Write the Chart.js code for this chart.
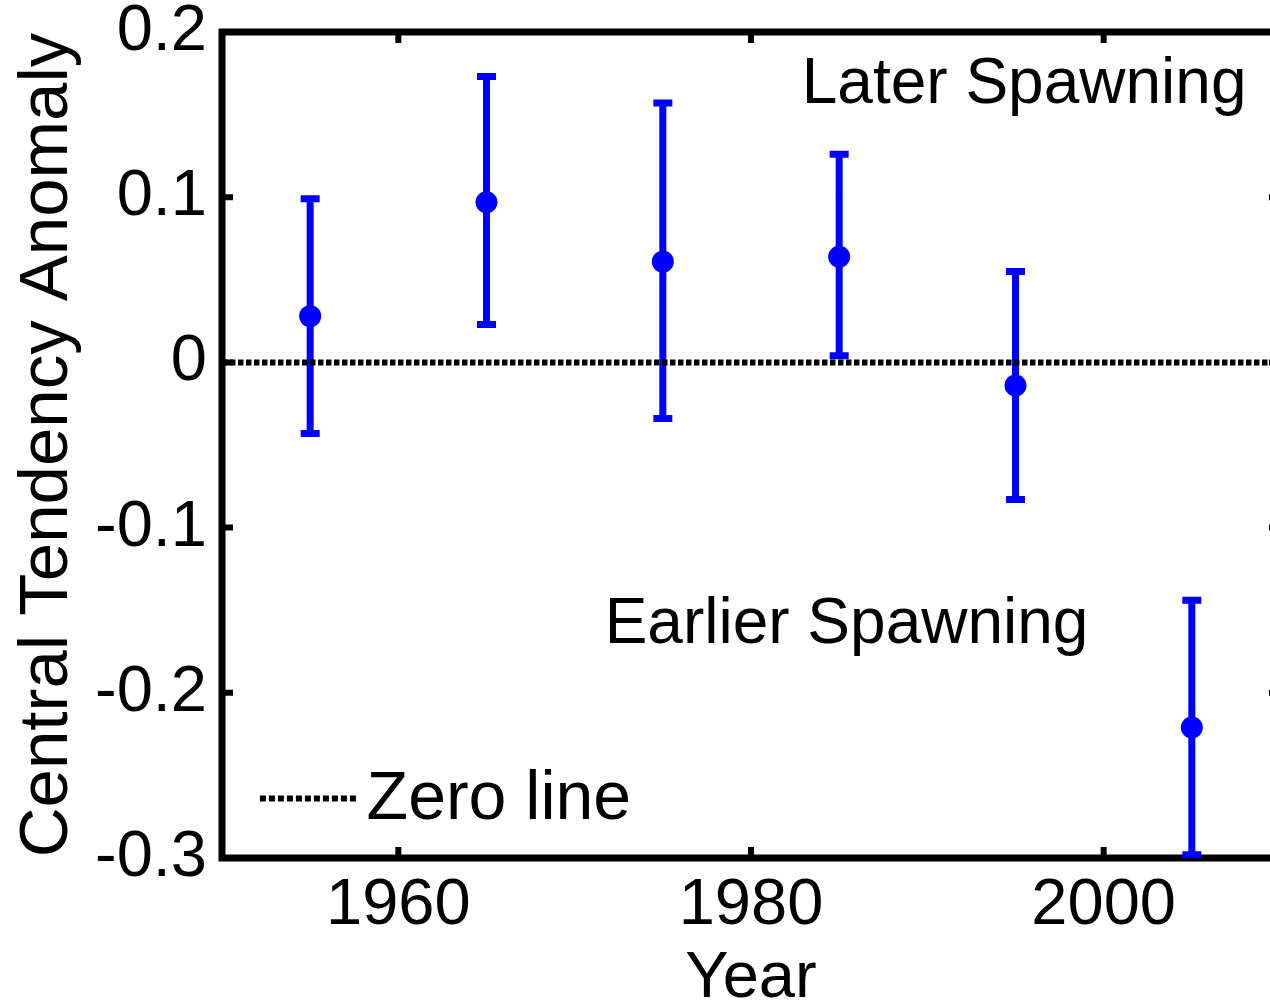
<!DOCTYPE html>
<html>
<head>
<meta charset="utf-8">
<script src="https://cdn.jsdelivr.net/npm/chart.js@4/dist/chart.umd.min.js"></script>
<style>
  html, body { margin: 0; padding: 0; background: #fff; overflow: hidden; }
  #wrap { width: 1270px; height: 1004px; overflow: hidden; }
</style>
</head>
<body>
<div id="wrap">
	<canvas id="anomalyChart" width="1300" height="1004"></canvas>
</div>

<script>
	// decade centres and the anomaly with its error range
	var years = [1955, 1965, 1975, 1985, 1995, 2005];
	var means = [0.028, 0.097, 0.061, 0.064, -0.014, -0.221];
	var upper = [0.099, 0.173, 0.157, 0.126, 0.055, -0.144];
	var lower = [-0.043, 0.023, -0.034, 0.004, -0.083, -0.298];

	var xTickValues = [1960, 1980, 2000];
	var xTickLabels = ["1960", "1980", "2000"];
	var yTickValues = [-0.3, -0.2, -0.1, 0, 0.1, 0.2];
	var yTickLabels = ["-0.3", "-0.2", "-0.1", "0", "0.1", "0.2"];

	var FONT = "'Liberation Sans', Arial, Helvetica, sans-serif";
	var BLUE = 'rgb(0, 0, 255)';

	// axis box with the inward ticks, then the error bars
	var boxAndBars = {
		id: 'boxAndBars',
		beforeDatasetsDraw: function (chart) {
			var ctx = chart.ctx;
			var a = chart.chartArea;
			var xs = chart.scales.x;
			var ys = chart.scales.y;
			ctx.save();
			ctx.strokeStyle = '#000';
			ctx.lineWidth = 7;
			ctx.strokeRect(a.left, a.top, a.right - a.left, a.bottom - a.top);

			ctx.lineWidth = 6;
			ctx.beginPath();
			xTickValues.forEach(function (v) {
				var px = xs.getPixelForValue(v);
				ctx.moveTo(px, a.bottom); ctx.lineTo(px, a.bottom - 11);
				ctx.moveTo(px, a.top); ctx.lineTo(px, a.top + 11);
			});
			yTickValues.forEach(function (v) {
				var py = ys.getPixelForValue(v);
				ctx.moveTo(a.left, py); ctx.lineTo(a.left + 11, py);
				ctx.moveTo(a.right, py); ctx.lineTo(a.right - 11, py);
			});
			ctx.stroke();

			ctx.strokeStyle = BLUE;
			ctx.lineWidth = 7;
			ctx.beginPath();
			for (var i = 0; i < years.length; i++) {
				var px = xs.getPixelForValue(years[i]);
				var top = ys.getPixelForValue(upper[i]);
				var bot = ys.getPixelForValue(lower[i]);
				ctx.moveTo(px, top); ctx.lineTo(px, bot);
				ctx.moveTo(px - 9.5, top); ctx.lineTo(px + 9.5, top);
				ctx.moveTo(px - 9.5, bot); ctx.lineTo(px + 9.5, bot);
			}
			ctx.stroke();
			ctx.restore();
		},
		afterDraw: function (chart) {
			var ctx = chart.ctx;
			var xs = chart.scales.x;
			var ys = chart.scales.y;
			ctx.save();
			ctx.fillStyle = '#000';
			ctx.font = '64px ' + FONT;
			ctx.textBaseline = 'alphabetic';

			ctx.textAlign = 'right';
			ctx.fillText("Later Spawning", xs.getPixelForValue(2008.1), ys.getPixelForValue(0.157));
			ctx.textAlign = 'left';
			ctx.fillText("Earlier Spawning", xs.getPixelForValue(1971.7), ys.getPixelForValue(-0.170));

			// legend entry
			ctx.strokeStyle = '#000';
			ctx.lineWidth = 6;
			ctx.setLineDash([6, 3]);
			ctx.beginPath();
			var ly = ys.getPixelForValue(-0.264);
			ctx.moveTo(xs.getPixelForValue(1952.15), ly);
			ctx.lineTo(xs.getPixelForValue(1957.65), ly);
			ctx.stroke();
			ctx.setLineDash([]);
			ctx.font = '68px ' + FONT;
			ctx.fillText("Zero line", xs.getPixelForValue(1958.2), ys.getPixelForValue(-0.2766));
			ctx.restore();
		}
	};

	// keep tick label overhang from pushing the plot box around
	function noOverhang(scale) {
		scale.paddingTop = 0;
		scale.paddingBottom = 0;
		scale.paddingLeft = 0;
		scale.paddingRight = 0;
	}

	var points = years.map(function (yr, i) { return { x: yr, y: means[i] }; });

	var ctx = document.getElementById("anomalyChart").getContext("2d");
	var chart = new Chart(ctx, {
		type: 'scatter',
		data: {
			datasets: [
				{
					label: 'Zero line',
					type: 'line',
					data: [{ x: 1950, y: 0 }, { x: 2010, y: 0 }],
					borderColor: '#000',
					borderWidth: 6,
					borderDash: [5.5, 2.5],
					pointRadius: 0,
					order: 0
				},
				{
					label: 'Anomaly',
					data: points,
					pointRadius: 11,
					pointBackgroundColor: BLUE,
					pointBorderColor: BLUE,
					pointBorderWidth: 0,
					order: 1
				}
			]
		},
		options: {
			responsive: false,
			animation: false,
			layout: { padding: { top: 32, right: 20, left: 0, bottom: 0 } },
			plugins: {
				legend: { display: false },
				tooltip: { enabled: false }
			},
			scales: {
				x: {
					type: 'linear',
					min: 1950,
					max: 2010,
					afterBuildTicks: function (scale) {
						scale.ticks = xTickValues.map(function (v) { return { value: v }; });
					},
					afterFit: function (scale) { scale.height = 146; noOverhang(scale); },
					grid: { display: false, drawTicks: false },
					border: { display: false },
					ticks: {
						autoSkip: false,
						maxRotation: 0,
						padding: 9,
						color: '#000',
						font: { family: FONT, size: 65 },
						callback: function (value) {
							var i = xTickValues.indexOf(value);
							return i >= 0 ? xTickLabels[i] : '';
						}
					},
					title: {
						display: true,
						text: 'Year',
						color: '#000',
						font: { family: FONT, size: 65, lineHeight: 1 },
						padding: { top: 0, bottom: -8 }
					}
				},
				y: {
					min: -0.3,
					max: 0.2,
					afterBuildTicks: function (scale) {
						scale.ticks = yTickValues.map(function (v) { return { value: v }; });
					},
					afterFit: function (scale) { scale.width = 222; noOverhang(scale); },
					grid: { display: false, drawTicks: false },
					border: { display: false },
					ticks: {
						autoSkip: false,
						padding: 15,
						color: '#000',
						font: { family: FONT, size: 65 },
						callback: function (value) {
							var i = yTickValues.indexOf(value);
							return i >= 0 ? yTickLabels[i] : '';
						}
					},
					title: {
						display: true,
						text: 'Central Tendency Anomaly',
						color: '#000',
						font: { family: FONT, size: 69, lineHeight: 1 },
						padding: { top: 13, bottom: 0 }
					}
				}
			}
		},
		plugins: [boxAndBars]
	});
</script>
</body>
</html>
